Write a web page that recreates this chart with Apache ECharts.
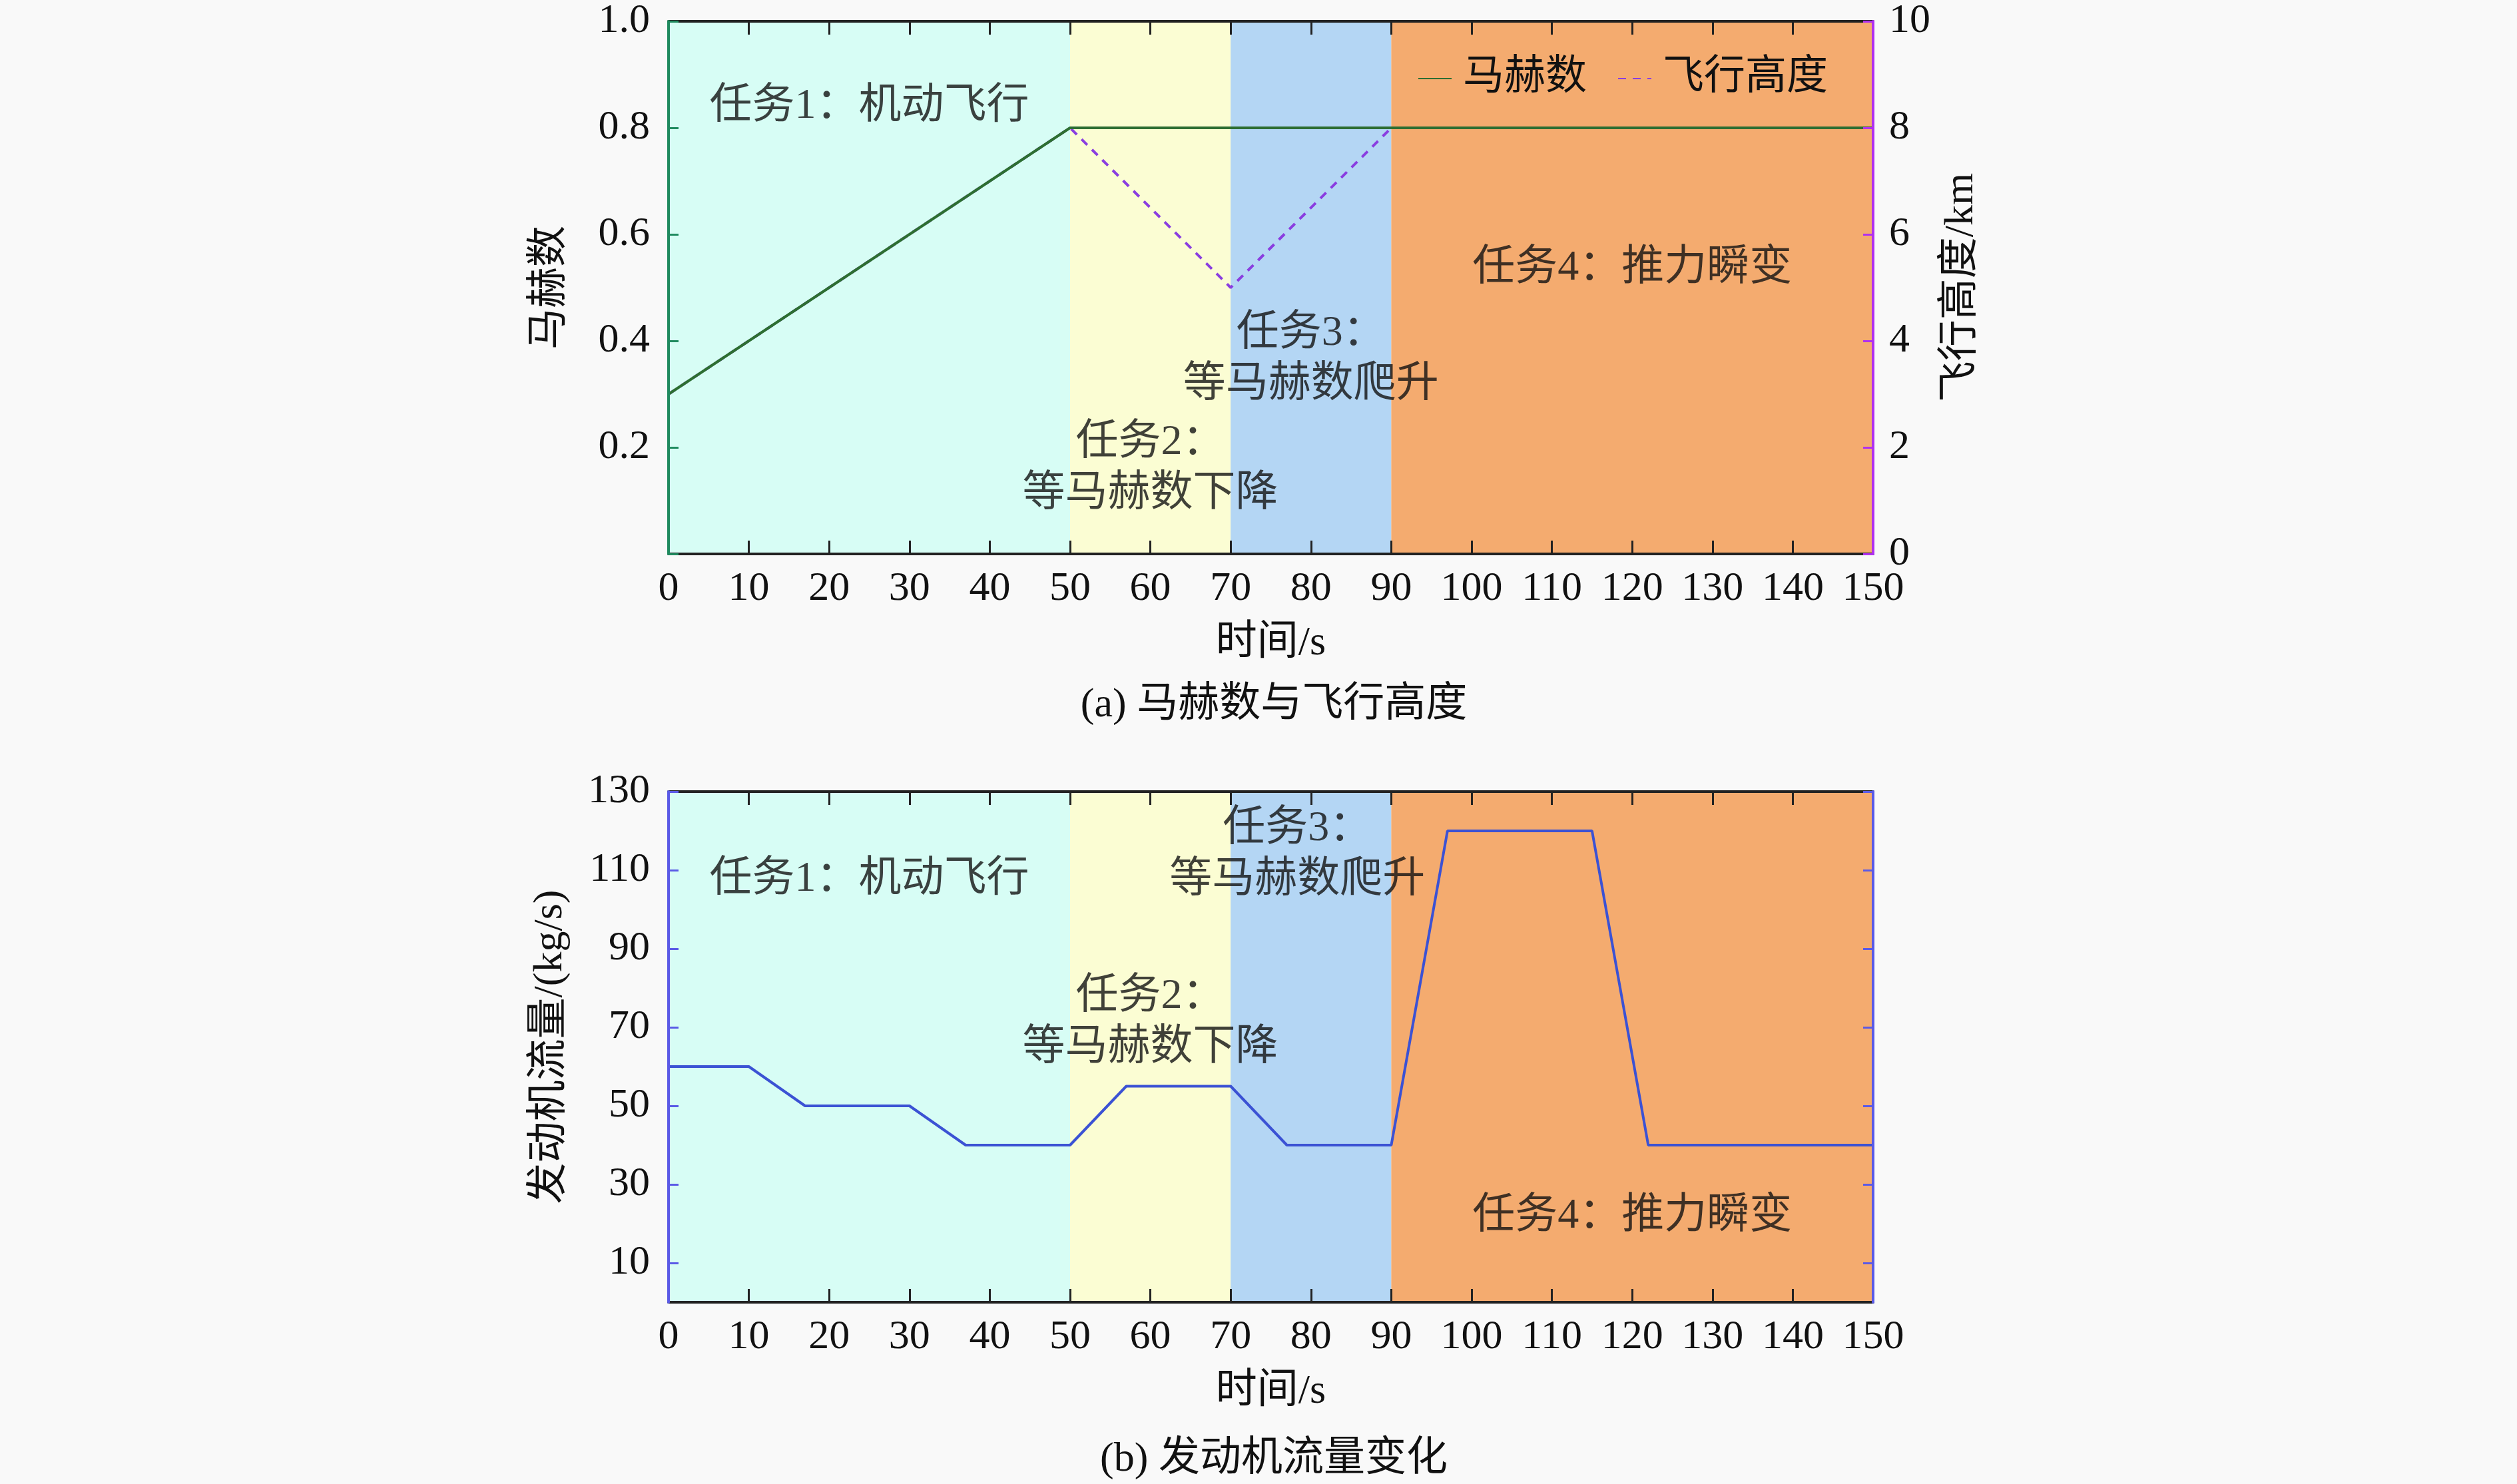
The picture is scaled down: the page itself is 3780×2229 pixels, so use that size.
<!DOCTYPE html>
<html>
<head>
<meta charset="utf-8">
<script src="https://cdn.jsdelivr.net/npm/echarts@6/dist/echarts.min.js"></script>
<style>
    html, body {margin: 0; padding: 0; background: #f9f9f9;}
    #chart {width: 3780px; height: 2229px;}
</style>
</head>
<body>
<div id="chart"></div>
<script>
// 任务区段 [起, 止, 颜色]
var phases = [
    [0, 50, '#d7fdf5'],
    [50, 70, '#fbfdd3'],
    [70, 90, '#b4d6f4'],
    [90, 150, '#f4ab6f']
];

// (a) 马赫数与飞行高度
var machData = [[0, 0.3], [50, 0.8], [70, 0.8], [90, 0.8], [150, 0.8]];
var altData = [[0, 3], [50, 8], [70, 5], [90, 8], [150, 8]];

// (b) 发动机流量
var flowData = [
    [0, 60], [10, 60], [17, 50], [30, 50], [37, 40], [50, 40],
    [57, 55], [70, 55], [77, 40], [90, 40], [97, 120], [115, 120],
    [122, 40], [150, 40]
];
var flowTicks = [10, 30, 50, 70, 90, 110, 130];

// 标注文字 [文字, x, y]
var notesA = [
    ['任务1：机动飞行', 25, 0.84],
    ['任务2：\n等马赫数下降', 60, 0.16],
    ['任务3：\n等马赫数爬升', 80, 0.366],
    ['任务4：推力瞬变', 120, 0.536]
];
var notesB = [
    ['任务1：机动飞行', 25, 107.6],
    ['任务2：\n等马赫数下降', 60, 71.2],
    ['任务3：\n等马赫数爬升', 78.3, 113.9],
    ['任务4：推力瞬变', 120, 21.9]
];

var FONT = "'Liberation Serif', 'Noto Sans CJK SC', serif";
var FS = 62;

function bands() {
    return {
        silent: true,
        data: phases.map(function (p) {
            return [{xAxis: p[0], itemStyle: {color: p[2]}}, {xAxis: p[1]}];
        })
    };
}

function xAx(grid, pos) {
    return {
        type: 'value', gridIndex: grid, position: pos, z: 10,
        min: 0, max: 150, interval: 10,
        name: pos === 'bottom' ? '时间/s' : '',
        nameLocation: 'middle', nameGap: 104,
        nameTextStyle: {fontFamily: FONT, fontSize: FS, color: '#111'},
        axisLine: {show: true, onZero: false, lineStyle: {color: '#222', width: 4}},
        axisTick: {show: true, inside: true, length: 20, lineStyle: {color: '#222', width: 3}},
        axisLabel: {show: pos === 'bottom', margin: 22, fontFamily: FONT, fontSize: FS, color: '#111'},
        splitLine: {show: false}
    };
}

function notes(list, xi, yi) {
    return {
        type: 'scatter', xAxisIndex: xi, yAxisIndex: yi,
        symbolSize: 0, silent: true, z: 5,
        data: list.map(function (n) { return {name: n[0], value: [n[1], n[2]]}; }),
        label: {
            show: true, position: 'inside', formatter: '{b}',
            fontFamily: FONT, fontSize: 64, lineHeight: 77, color: '#111', align: 'center'
        }
    };
}

var myChart = echarts.init(document.getElementById('chart'));
var option = {
    backgroundColor: '#f9f9f9',
    animation: false,
    title: [
        {text: '(a) 马赫数与飞行高度', left: 1908, top: 1024, textAlign: 'center',
            textStyle: {fontFamily: FONT, fontSize: FS, fontWeight: 'normal', color: '#111'}},
        {text: '(b) 发动机流量变化', left: 1908, top: 2157, textAlign: 'center',
            textStyle: {fontFamily: FONT, fontSize: FS, fontWeight: 'normal', color: '#111'}}
    ],
    legend: {
        data: ['马赫数', '飞行高度'],
        right: 1030, top: 82,
        itemWidth: 50, itemHeight: 20, itemGap: 46,
        itemStyle: {opacity: 0},
        textStyle: {fontFamily: FONT, fontSize: FS, color: '#111', padding: [0, 0, 0, 12]}
    },
    grid: [
        {left: 1004, right: 967, top: 32, height: 800},
        {left: 1004, right: 967, top: 1189, height: 767}
    ],
    xAxis: [xAx(0, 'bottom'), xAx(0, 'top'), xAx(1, 'bottom'), xAx(1, 'top')],
    yAxis: [
        {
            type: 'value', gridIndex: 0, position: 'left', min: 0, max: 1, interval: 0.2, z: 11,
            name: '马赫数', nameLocation: 'middle', nameGap: 146, nameRotate: 90,
            nameTextStyle: {fontFamily: FONT, fontSize: FS, color: '#111'},
            axisLine: {show: true, onZero: false, lineStyle: {color: '#1f8a5f', width: 4}},
            axisTick: {show: true, inside: true, length: 15, lineStyle: {color: '#1f8a5f', width: 3}},
            axisLabel: {margin: 28, fontFamily: FONT, fontSize: FS, color: '#111',
                formatter: function (v) { return v === 0 ? '' : v.toFixed(1); }},
            splitLine: {show: false}
        },
        {
            type: 'value', gridIndex: 0, position: 'right', min: 0, max: 10, interval: 2, z: 11,
            name: '飞行高度/km', nameLocation: 'middle', nameGap: 102, nameRotate: 90,
            nameTextStyle: {fontFamily: FONT, fontSize: FS, color: '#111'},
            axisLine: {show: true, onZero: false, lineStyle: {color: '#b030f0', width: 4}},
            axisTick: {show: true, inside: true, length: 15, lineStyle: {color: '#b030f0', width: 3}},
            axisLabel: {margin: 24, fontFamily: FONT, fontSize: FS, color: '#111'},
            splitLine: {show: false}
        },
        {
            type: 'value', gridIndex: 1, position: 'left', min: 0, max: 130, z: 11,
            name: '发动机流量/(kg/s)', nameLocation: 'middle', nameGap: 146, nameRotate: 90,
            nameTextStyle: {fontFamily: FONT, fontSize: FS, color: '#111'},
            axisLine: {show: true, onZero: false, lineStyle: {color: '#5a5ae6', width: 4}},
            axisTick: {show: true, inside: true, length: 15, customValues: flowTicks,
                lineStyle: {color: '#5a5ae6', width: 3}},
            axisLabel: {margin: 28, fontFamily: FONT, fontSize: FS, color: '#111', customValues: flowTicks},
            splitLine: {show: false}
        },
        {
            type: 'value', gridIndex: 1, position: 'right', min: 0, max: 130, z: 11,
            axisLine: {show: true, onZero: false, lineStyle: {color: '#5a5ae6', width: 4}},
            axisTick: {show: true, inside: true, length: 15, customValues: flowTicks,
                lineStyle: {color: '#5a5ae6', width: 3}},
            axisLabel: {show: false},
            splitLine: {show: false}
        }
    ],
    series: [
        {
            name: '飞行高度', type: 'line', xAxisIndex: 0, yAxisIndex: 1,
            symbol: 'none', data: altData, z: 3,
            lineStyle: {color: '#8a3ee0', width: 4, type: [12, 10]},
            itemStyle: {color: '#8a3ee0'}
        },
        {
            name: '马赫数', type: 'line', xAxisIndex: 0, yAxisIndex: 0,
            symbol: 'none', data: machData, z: 4,
            lineStyle: {color: '#2d6e32', width: 4},
            itemStyle: {color: '#2d6e32'},
            markArea: bands()
        },
        notes(notesA, 0, 0),
        {
            name: '流量', type: 'line', xAxisIndex: 2, yAxisIndex: 2,
            symbol: 'none', data: flowData, z: 3,
            lineStyle: {color: '#3b52d4', width: 4},
            itemStyle: {color: '#3b52d4'},
            markArea: bands()
        },
        notes(notesB, 2, 2)
    ]
};

myChart.setOption(option);
</script>
</body>
</html>
